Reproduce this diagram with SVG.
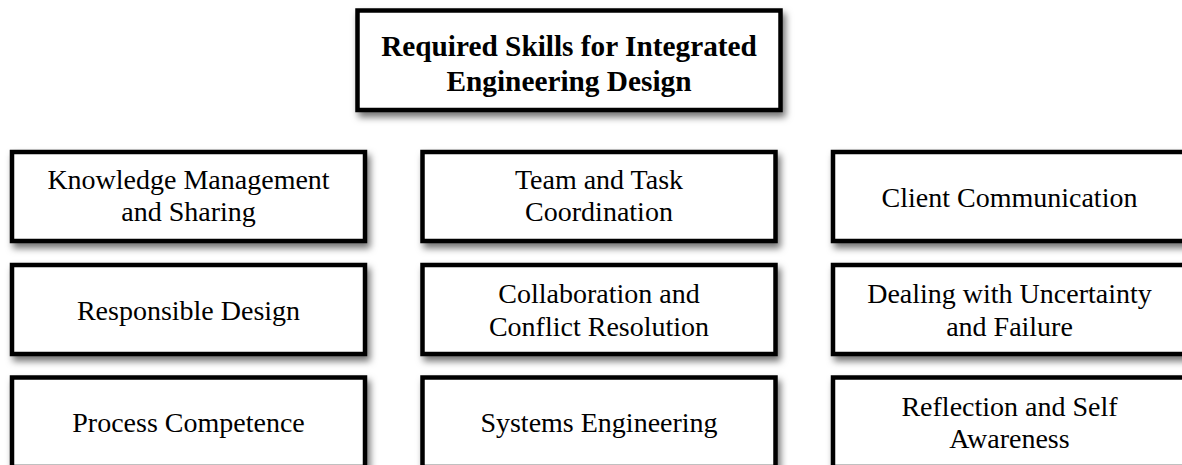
<svg xmlns="http://www.w3.org/2000/svg" width="1182" height="465" viewBox="0 0 1182 465">
<defs>
<filter id="sh" x="-10%" y="-20%" width="130%" height="150%">
<feDropShadow dx="3" dy="5" stdDeviation="3.5" flood-color="#000" flood-opacity="0.55"/>
</filter>
<style>
.box{fill:#fff;stroke:#000;stroke-width:4.5;filter:url(#sh)}
.t{font-family:"Liberation Serif","Times New Roman",serif;font-size:28px;fill:#000;text-anchor:middle}
.h{font-family:"Liberation Serif","Times New Roman",serif;font-size:29.3px;font-weight:bold;fill:#000;text-anchor:middle}
</style>
</defs>
<rect width="1182" height="465" fill="#fff"/>
<g id="title">
<rect class="box" x="357.5" y="10.5" width="423" height="99.5"/>
<text class="h" x="569" y="56">Required Skills for Integrated</text>
<text class="h" x="569" y="91">Engineering Design</text>
</g>
<g id="knowledge">
<rect class="box" x="12" y="152" width="353" height="89"/>
<text class="t" x="188.5" y="189">Knowledge Management</text>
<text class="t" x="188.5" y="221">and Sharing</text>
</g>
<g id="team">
<rect class="box" x="422.5" y="152" width="353" height="89"/>
<text class="t" x="599" y="189">Team and Task</text>
<text class="t" x="599" y="221">Coordination</text>
</g>
<g id="client">
<rect class="box" x="833" y="152" width="353" height="89"/>
<text class="t" x="1009.5" y="207">Client Communication</text>
</g>
<g id="responsible">
<rect class="box" x="12" y="265" width="353" height="89"/>
<text class="t" x="188.5" y="320">Responsible Design</text>
</g>
<g id="collaboration">
<rect class="box" x="422.5" y="265" width="353" height="89"/>
<text class="t" x="599" y="303">Collaboration and</text>
<text class="t" x="599" y="336">Conflict Resolution</text>
</g>
<g id="uncertainty">
<rect class="box" x="833" y="265" width="353" height="89"/>
<text class="t" x="1009.5" y="303">Dealing with Uncertainty</text>
<text class="t" x="1009.5" y="336">and Failure</text>
</g>
<g id="process">
<rect class="box" x="12" y="377.5" width="353" height="89.5"/>
<text class="t" x="188.5" y="432">Process Competence</text>
</g>
<g id="systems">
<rect class="box" x="422.5" y="377.5" width="353" height="89.5"/>
<text class="t" x="599" y="432">Systems Engineering</text>
</g>
<g id="reflection">
<rect class="box" x="833" y="377.5" width="353" height="89.5"/>
<text class="t" x="1009.5" y="416">Reflection and Self</text>
<text class="t" x="1009.5" y="448">Awareness</text>
</g>
<g id="connectors"></g>
</svg>
